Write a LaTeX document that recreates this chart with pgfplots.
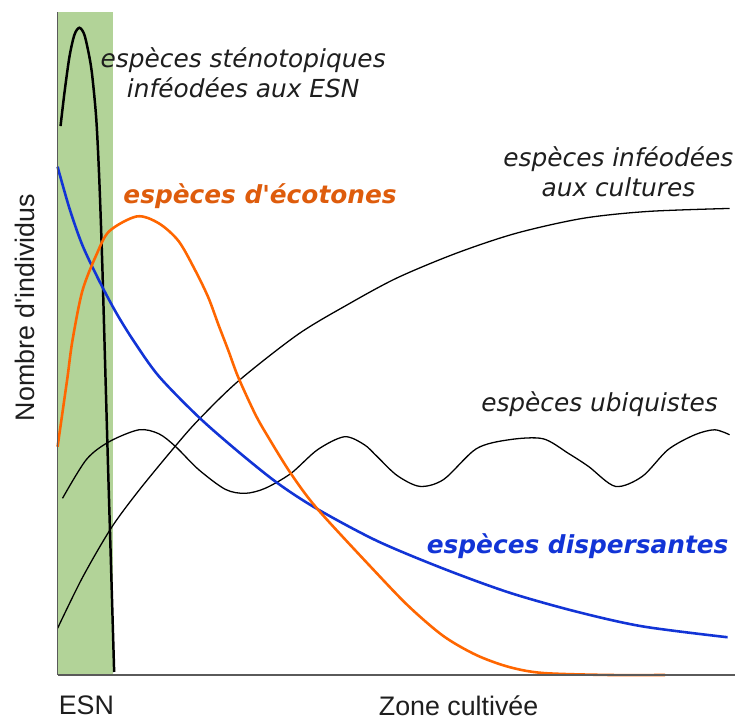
\documentclass[border=0pt]{standalone}
\usepackage{fontspec}
\setmainfont{DejaVu Sans}[Ligatures=TeXOff]
\newfontfamily\arialfont{Liberation Sans}[Ligatures=TeXOff]
\usepackage{pgfplots}
\pgfplotsset{compat=1.18}
\definecolor{cBand}{RGB}{178,211,152}
\definecolor{cOrange}{RGB}{255,102,0}
\definecolor{cOrangeTxt}{RGB}{222,92,12}
\definecolor{cBlue}{RGB}{18,52,214}
\definecolor{cInk}{RGB}{30,30,30}
\definecolor{cAxis}{RGB}{90,90,90}

\begin{document}
\begin{tikzpicture}
\begin{axis}[
  scale only axis,
  width=341pt, height=334pt,
  xmin=58, xmax=740, ymin=0, ymax=668,
  axis x line*=bottom, axis y line*=left,
  axis line style={cAxis, line width=0.7pt, -},
  xtick=\empty, ytick=\empty,
  clip=false,
  axis on top,
]
% ESN band
\addplot[fill=cBand, draw=none, sharp plot] coordinates {(58,668) (114,668)} \closedcycle;

% especes stenotopiques
\addplot[smooth, black, line width=1.25pt] coordinates {
  (61,553) (65,587) (70,623) (75,645) (80,652) (85,645) (90,623) (93,603)
  (97,560) (100,500) (103,415) (106,310) (109,205) (112,105) (115,3)};

% especes inféodées aux cultures
\addplot[smooth, black, line width=0.65pt] coordinates {
  (58,47) (83,98) (112,148) (140,186) (177,231) (200,257) (240,296)
  (300,343) (350,373) (400,400) (460,425) (520,445) (587,460) (653,467) (735,470)};

% especes ubiquistes
\addplot[smooth, black, line width=0.65pt] coordinates {
  (63,178) (87,217) (110,235) (140,247) (160,243) (177,230) (200,207) (227,187)
  (247,183) (267,188) (293,203) (320,227) (347,240) (367,232) (380,220) (400,201)
  (423,190) (447,197) (480,228) (513,237) (547,238) (573,223) (593,210) (620,190)
  (647,200) (673,227) (700,242) (720,247) (735,242)};

% especes dispersantes
\addplot[smooth, cBlue, line width=1.3pt] coordinates {
  (58,512) (70,470) (83,433) (100,397) (117,365) (135,336) (160,301)
  (200,260) (240,225) (280,193) (320,167) (380,135) (447,107) (513,83)
  (580,64) (647,49) (733,38)};

% especes d'ecotones
\addplot[smooth, cOrange, line width=1.3pt] coordinates {
  (58,230) (63,265) (68,300) (73,337) (83,387) (97,423) (110,447) (138,462)
  (160,455) (180,437) (197,407) (210,380) (220,353) (230,327) (240,300)
  (257,263) (270,240) (293,203) (320,167) (380,102) (413,68) (447,39)
  (480,20) (513,8) (547,2) (613,0) (670,0)};

% labels
\node[font=\fontsize{12.5}{15}\selectfont\itshape, color=cInk, align=center]
  at (axis cs:245,607) {espèces sténotopiques\\inféodées aux ESN};
\node[font=\fontsize{12.5}{15}\selectfont\bfseries\itshape, color=cOrangeTxt]
  at (axis cs:262,482) {espèces d'écotones};
\node[font=\fontsize{12.5}{15}\selectfont\itshape, color=cInk, align=center]
  at (axis cs:623,507) {espèces inféodées\\aux cultures};
\node[font=\fontsize{12.5}{15}\selectfont\itshape, color=cInk]
  at (axis cs:604,273) {espèces ubiquistes};
\node[font=\fontsize{12.5}{15}\selectfont\bfseries\itshape, color=cBlue]
  at (axis cs:582,130) {espèces dispersantes};
\node[font=\arialfont\fontsize{13.5}{16}\selectfont, color=cInk]
  at (axis cs:87,-31) {ESN};
\node[font=\arialfont\fontsize{13.5}{16}\selectfont, color=cInk]
  at (axis cs:462,-31) {Zone cultivée};
\node[font=\arialfont\fontsize{13.5}{16}\selectfont, color=cInk, rotate=90]
  at (axis cs:25,370) {Nombre d'individus};
% page extent
\path (axis cs:0,680) (axis cs:740,-44);
\end{axis}
\end{tikzpicture}
\end{document}
